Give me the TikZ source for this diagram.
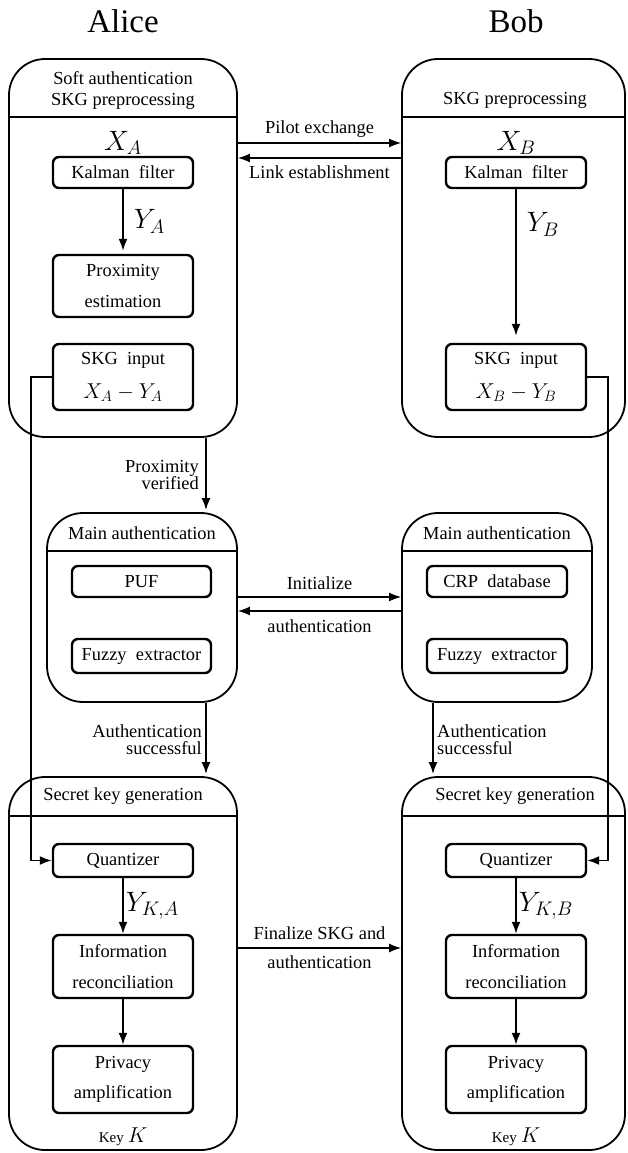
\RequirePackage{fix-cm}
\documentclass[tikz,border=0pt]{standalone}
\usepackage{fontspec}
\setmainfont{Liberation Serif}
\usetikzlibrary{arrows.meta,positioning}
\newcommand{\bodyfont}{\fontsize{18.4}{22}\selectfont}
\newcommand{\mathbig}{\fontsize{28}{32}\selectfont}
\newcommand{\mathmid}{\fontsize{21.5}{24}\selectfont}

\begin{document}
\begin{tikzpicture}[x=1pt, y=-1pt, >={Latex[length=12pt,width=9pt]},
  every node/.style={font=\bodyfont},
  stage/.style={draw, line width=1.8pt, rounded corners=36pt, inner sep=0pt},
  block/.style={draw, line width=2.4pt, rounded corners=6pt, inner sep=0pt, minimum width=140pt, align=center},
  flow/.style={->, line width=1.8pt},
  msg/.style={->, line width=1.4pt},
  var/.style={font=\mathbig, inner sep=1pt},
  twoline/.style={font=\fontsize{18.4}{17}\selectfont}]
  \useasboundingbox (0,0) rectangle (627,1153);

  % parties
  \node[font=\fontsize{33}{38}\selectfont] (alice) at (123,21) {Alice};
  \node[font=\fontsize{33}{38}\selectfont] (bob) at (516,21) {Bob};

  % Alice: soft authentication and SKG preprocessing
  \node[stage, minimum width=228pt, minimum height=378pt] (aSoft) at (123,248) {};
  \node[align=center, font=\fontsize{18.4}{21}\selectfont] (aSoftHdr) at (123,90.5) {Soft authentication\\SKG preprocessing};
  \draw[line width=1.8pt] (aSoft.west |- 0,117) -- (aSoft.east |- 0,117);
  \node[block, minimum height=31pt] (aKalman) at (123,172.5) {Kalman~ filter};
  \node[var, above=0pt of aKalman] (aX) {$X_A$};
  \node[block, minimum height=62pt] (aProx) at (123,286) {Proximity\\[9pt]estimation};
  \node[block, minimum height=66pt] (aInput) at (123,377) {SKG~ input\\[12pt]{\mathmid$X_A-Y_A$}};
  \draw[flow, shorten >=3pt] (aKalman) -- (aProx) node[var, midway, right=9pt] (aY) {$Y_A$};

  % Bob: SKG preprocessing
  \node[stage, minimum width=223pt, minimum height=378pt] (bPre) at (513.5,248) {};
  \node (bPreHdr) at (515,100) {SKG preprocessing};
  \draw[line width=1.8pt] (bPre.west |- 0,117) -- (bPre.east |- 0,117);
  \node[block, minimum height=31pt] (bKalman) at (516,172.5) {Kalman~ filter};
  \node[var, above=0pt of bKalman] (bX) {$X_B$};
  \node[block, minimum height=66pt] (bInput) at (516,377) {SKG~ input\\[12pt]{\mathmid$X_B-Y_B$}};
  \draw[flow, shorten >=7pt] (bKalman) -- (bInput) node[var, pos=0.23, right=9pt] (bY) {$Y_B$};

  % main authentication
  \node[stage, minimum width=190pt, minimum height=189pt] (aMain) at (142,607.5) {};
  \node (aMainHdr) at (142,533) {Main authentication};
  \draw[line width=1.8pt] (aMain.west |- 0,551) -- (aMain.east |- 0,551);
  \node[block, minimum width=139pt, minimum height=31pt] (aPuf) at (141.5,581.5) {PUF};
  \node[block, minimum width=139pt, minimum height=34pt] (aFuzzy) at (141.5,656) {Fuzzy~ extractor};

  \node[stage, minimum width=190pt, minimum height=189pt] (bMain) at (497,607.5) {};
  \node (bMainHdr) at (497,533) {Main authentication};
  \draw[line width=1.8pt] (bMain.west |- 0,551) -- (bMain.east |- 0,551);
  \node[block, minimum height=31pt] (bCrp) at (497,581.5) {CRP~ database};
  \node[block, minimum height=34pt] (bFuzzy) at (497,656) {Fuzzy~ extractor};

  % secret key generation
  \node[stage, minimum width=228pt, minimum height=373pt] (aSkg) at (123,963.5) {};
  \node (aSkgHdr) at (123,796) {Secret key generation};
  \draw[line width=1.8pt] (aSkg.west |- 0,816) -- (aSkg.east |- 0,816);
  \node[block, minimum height=33pt] (aQuant) at (123,860.5) {Quantizer};
  \node[block, minimum height=63pt] (aRecon) at (123,966.5) {Information\\[9pt]reconciliation};
  \node[block, minimum height=67pt] (aPriv) at (123,1079.5) {Privacy\\[8pt]amplification};
  \node[below=12pt of aPriv, inner sep=1pt] (aKey) {{\fontsize{15}{16}\selectfont Key}\hspace{4pt}{\mathmid$K$}};
  \draw[flow] (aQuant) -- (aRecon) node[var, midway, right=1pt] (aYK) {$Y_{K,A}$};
  \draw[flow] (aRecon) -- (aPriv);

  \node[stage, minimum width=223pt, minimum height=373pt] (bSkg) at (513.5,963.5) {};
  \node (bSkgHdr) at (515,796) {Secret key generation};
  \draw[line width=1.8pt] (bSkg.west |- 0,816) -- (bSkg.east |- 0,816);
  \node[block, minimum height=33pt] (bQuant) at (516,860.5) {Quantizer};
  \node[block, minimum height=63pt] (bRecon) at (516,966.5) {Information\\[9pt]reconciliation};
  \node[block, minimum height=67pt] (bPriv) at (516,1079.5) {Privacy\\[8pt]amplification};
  \node[below=12pt of bPriv, inner sep=1pt] (bKey) {{\fontsize{15}{16}\selectfont Key}\hspace{4pt}{\mathmid$K$}};
  \draw[flow] (bQuant) -- (bRecon) node[var, midway, right=1pt] (bYK) {$Y_{K,B}$};
  \draw[flow] (bRecon) -- (bPriv);

  % messages between Alice and Bob
  \draw[msg] (aSoft.east |- 0,143) -- (bPre.west |- 0,143) node[midway, above=1pt] (lPilot) {Pilot exchange};
  \draw[msg] (bPre.west |- 0,158) -- (aSoft.east |- 0,158) node[midway, below=4pt] (lLink) {Link establishment};
  \draw[msg] (aMain.east |- 0,597) -- (bMain.west |- 0,597) node[midway, above=3pt] (lInit) {Initialize};
  \draw[msg] (bMain.west |- 0,611) -- (aMain.east |- 0,611) node[midway, below=5pt] (lAuth) {authentication};
  \draw[msg] (aSkg.east |- 0,948) -- (bSkg.west |- 0,948)
    node[midway, above=4pt] (lFin) {Finalize SKG and}
    node[midway, below=4pt] (lFinB) {authentication};

  % stage transitions
  \draw[flow, shorten >=2pt] (aSoft.south -| 206,0) -- (aMain.north -| 206,0)
    node[twoline, midway, left=3pt, align=right] (lProx) {Proximity\\verified};
  \draw[flow, shorten >=2pt] (aMain.south -| 206,0) -- (aSkg.north -| 206,0)
    node[twoline, midway, left, align=right] (lSuccA) {Authentication\\successful};
  \draw[flow, shorten >=2pt] (bMain.south -| 433,0) -- (bSkg.north -| 433,0)
    node[twoline, midway, right, align=left] (lSuccB) {Authentication\\successful};

  % SKG input fed to the quantizer
  \draw[flow] (aInput.west) -- ++(-21,0) |- (aQuant.west);
  \draw[flow] (bInput.east) -- ++(21,0) |- (bQuant.east);
\end{tikzpicture}
\end{document}
